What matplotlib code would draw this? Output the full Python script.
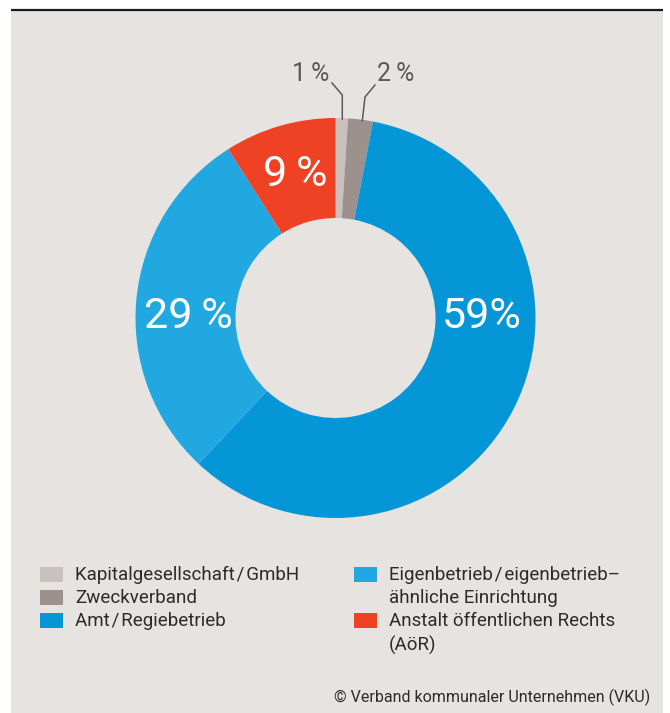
import matplotlib.pyplot as plt
from matplotlib.patches import Rectangle

# data
categories = [
    "Kapitalgesellschaft\u200a/\u200aGmbH",
    "Zweckverband",
    "Amt\u200a/\u200aRegiebetrieb",
    "Eigenbetrieb\u200a/\u200aeigenbetrieb–\nähnliche Einrichtung",
    "Anstalt öffentlichen Rechts\n(AöR)",
]
shares = [1, 2, 59, 29, 9]
share_labels = ["1\u2009%", "2\u2009%", "59%", "29\u2009%", "9\u2009%"]
colors = ["#c9c1be", "#9c918c", "#0596d7", "#22a8e1", "#ef4123"]

BG = "#e7e3e1"
TEXT = "#2b2b2b"
FONT = ["Roboto", "DejaVu Sans"]

W, H = 670, 713
fig = plt.figure(figsize=(W / 100, H / 100), dpi=100, facecolor="white")
ax = fig.add_axes([0, 0, 1, 1])
ax.axis("off")

# panel + top rule
ax.add_patch(Rectangle((11, 0), 652, H - 10, facecolor=BG, edgecolor="none", zorder=0))
ax.plot([11, 663], [H - 9.5, H - 9.5], color="#1a1a1a", lw=1.6, solid_capstyle="butt", zorder=1)

cx, cy, r = 335.5, H - 318, 200
wedges, _ = ax.pie(
    shares,
    colors=colors,
    startangle=90,
    counterclock=False,
    radius=r,
    center=(cx, cy),
    wedgeprops=dict(width=100, linewidth=0),
)
ax.set_xlim(0, W)
ax.set_ylim(0, H)
ax.set_aspect("auto")

# inside labels
big = dict(color="white", fontsize=31, ha="center", va="center", family=FONT)
ax.text(482, H - 316, share_labels[2], **big)
ax.text(188, H - 316, share_labels[3], **big)
ax.text(295, H - 175, share_labels[4], **big)

# small slices with leader lines
small = dict(color="#5a5a5a", fontsize=18, ha="center", va="center", family=FONT)
ax.text(311, H - 74, share_labels[0], **small)
ax.text(396, H - 74, share_labels[1], **small)
ax.plot([332, 342.3, 342.3], [H - 83, H - 95, H - 119], color="#5a5a5a", lw=1.1)
ax.plot([375, 365, 362.3], [H - 85, H - 97, H - 121], color="#5a5a5a", lw=1.1)

# legend: each line placed on the 23.3 px row grid
row_y = [575, 598, 621, 645]
legend_slots = [(0, 40, 0), (1, 40, 1), (2, 40, 2), (3, 354, 0), (4, 354, 2)]
for idx, x0, row in legend_slots:
    y = row_y[row]
    ax.add_patch(Rectangle((x0, H - y - 7), 23, 15, facecolor=colors[idx], edgecolor="none"))
    for k, line in enumerate(categories[idx].split("\n")):
        ax.text(x0 + 35, H - row_y[row + k], line, color=TEXT, fontsize=13.5,
                ha="left", va="center", family=FONT)

ax.text(650, H - 697, "© Verband kommunaler Unternehmen (VKU)", color=TEXT, fontsize=11.5,
        ha="right", va="center", family=FONT)

fig.savefig("out.png", dpi=100, facecolor="white")
